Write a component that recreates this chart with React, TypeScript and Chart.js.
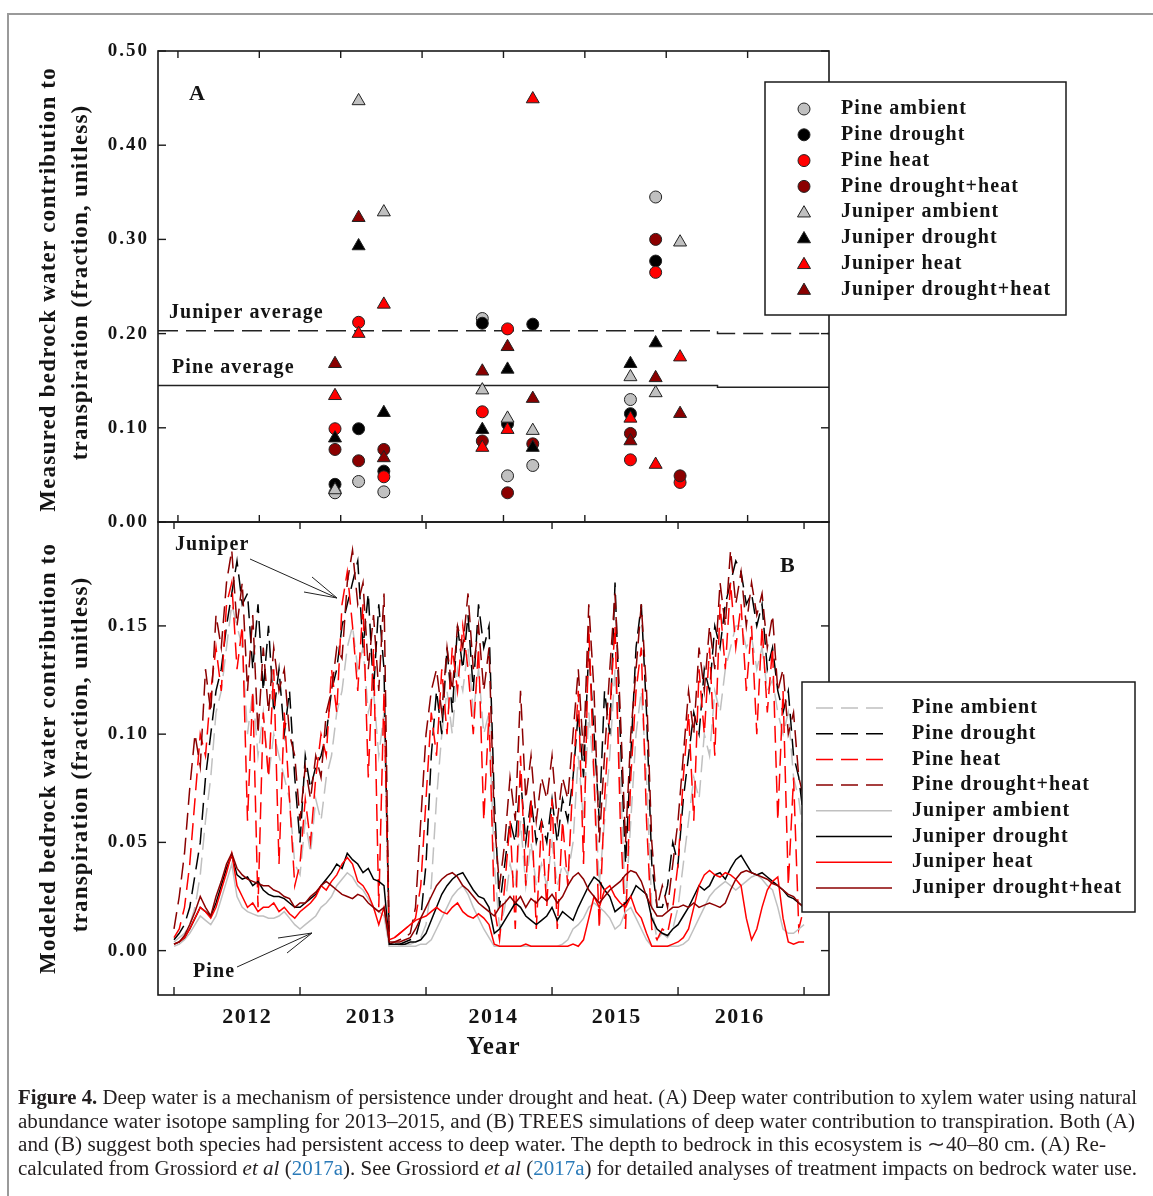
import React, { useEffect, useRef } from 'react';
import { Chart, registerables } from 'chart.js';
Chart.register(...registerables);

const SERIF = '"Liberation Serif", "Times New Roman", Times, serif';
const AXIS = '#1a1a1a';

// ---------------- Panel A: measured values ----------------
const sampleX = [1.93, 2.22, 2.53, 3.74, 4.05, 4.36, 5.56, 5.87, 6.17];
const pineAmbientA = [0.031, 0.043, 0.032, 0.216, 0.049, 0.060, 0.130, 0.345, null];
const pineDroughtA = [0.040, 0.099, 0.054, 0.211, 0.104, 0.210, 0.115, 0.277, null];
const pineHeatA = [0.099, 0.212, 0.048, 0.117, 0.205, null, 0.066, 0.265, 0.042];
const pineDroughtHeatA = [0.077, 0.065, 0.077, 0.086, 0.031, 0.083, 0.094, 0.300, 0.049];
const juniperAmbientA = [0.034, 0.447, 0.329, 0.140, 0.110, 0.097, 0.154, 0.137, 0.297];
const juniperDroughtA = [0.089, 0.293, 0.116, 0.098, 0.162, 0.079, 0.168, 0.190, null];
const juniperHeatA = [0.134, 0.200, 0.231, 0.079, 0.098, 0.449, 0.110, 0.061, 0.175];
const juniperDroughtHeatA = [0.168, 0.323, 0.068, 0.160, 0.186, 0.131, 0.086, 0.153, 0.115];

const avgX = [-0.245, 6.63, 6.63, 8.0];
const juniperAverage = [0.203, 0.203, 0.200, 0.200];
const pineAverage = [0.145, 0.145, 0.143, 0.143];

const yTicksA = [0, 0.1, 0.2, 0.3, 0.4, 0.5];
const xTicksA = [0, 1, 2, 3, 4, 5, 6, 7];

// ---------------- Panel B: modeled (semi-monthly, 2012.0 - 2017.0) ----------------
const simStart = 2012;
const stepsPerYear = 24;

const pineAmbientB = [
  0.004, 0.006, 0.008, 0.012, 0.020, 0.035, 0.060, 0.080, 0.110, 0.120, 0.140, 0.160,
  0.150, 0.140, 0.100, 0.120, 0.090, 0.110, 0.080, 0.100, 0.090, 0.080, 0.070, 0.040,
  0.035, 0.060, 0.045, 0.070, 0.060, 0.080, 0.090, 0.110, 0.120, 0.140, 0.150, 0.130,
  0.140, 0.110, 0.120, 0.090, 0.110, 0.002, 0.002, 0.002, 0.003, 0.003, 0.004, 0.006,
  0.012, 0.030, 0.070, 0.100, 0.120, 0.100, 0.130, 0.120, 0.140, 0.110, 0.130, 0.100,
  0.110, 0.040, 0.010, 0.020, 0.040, 0.030, 0.060, 0.030, 0.050, 0.030, 0.040, 0.030,
  0.050, 0.030, 0.040, 0.035, 0.050, 0.090, 0.060, 0.110, 0.080, 0.030, 0.060, 0.090,
  0.130, 0.080, 0.020, 0.060, 0.100, 0.120, 0.080, 0.020, 0.005, 0.008, 0.006, 0.010,
  0.020, 0.040, 0.060, 0.080, 0.070, 0.100, 0.090, 0.120, 0.110, 0.130, 0.140, 0.150,
  0.150, 0.140, 0.145, 0.130, 0.140, 0.120, 0.125, 0.110, 0.100, 0.110, 0.080, 0.070, 0.050,
];
const pineDroughtB = [
  0.005, 0.008, 0.012, 0.020, 0.035, 0.050, 0.080, 0.100, 0.120, 0.130, 0.150, 0.165,
  0.180, 0.160, 0.165, 0.130, 0.160, 0.120, 0.150, 0.110, 0.130, 0.100, 0.120, 0.080,
  0.050, 0.090, 0.075, 0.085, 0.090, 0.100, 0.120, 0.130, 0.150, 0.160, 0.170, 0.180,
  0.140, 0.165, 0.120, 0.160, 0.130, 0.003, 0.003, 0.003, 0.004, 0.005, 0.006, 0.015,
  0.040, 0.090, 0.120, 0.100, 0.140, 0.110, 0.150, 0.130, 0.155, 0.120, 0.160, 0.140,
  0.150, 0.070, 0.020, 0.040, 0.060, 0.050, 0.080, 0.050, 0.070, 0.050, 0.060, 0.050,
  0.070, 0.050, 0.070, 0.060, 0.080, 0.110, 0.080, 0.140, 0.100, 0.060, 0.120, 0.100,
  0.170, 0.100, 0.040, 0.090, 0.140, 0.160, 0.110, 0.040, 0.020, 0.020, 0.030, 0.050,
  0.040, 0.070, 0.090, 0.110, 0.100, 0.130, 0.120, 0.150, 0.140, 0.160, 0.170, 0.180,
  0.175, 0.160, 0.165, 0.150, 0.160, 0.130, 0.140, 0.120, 0.110, 0.120, 0.090, 0.080, 0.060,
];
const pineHeatB = [
  0.006, 0.010, 0.020, 0.040, 0.070, 0.100, 0.090, 0.120, 0.140, 0.120, 0.160, 0.170,
  0.130, 0.150, 0.060, 0.120, 0.020, 0.110, 0.080, 0.130, 0.040, 0.110, 0.070, 0.030,
  0.040, 0.070, 0.050, 0.080, 0.100, 0.090, 0.130, 0.110, 0.160, 0.175, 0.150, 0.120,
  0.160, 0.080, 0.140, 0.020, 0.120, 0.005, 0.006, 0.008, 0.010, 0.012, 0.015, 0.030,
  0.070, 0.110, 0.090, 0.130, 0.100, 0.140, 0.120, 0.150, 0.130, 0.100, 0.140, 0.060,
  0.110, 0.020, 0.005, 0.030, 0.060, 0.010, 0.090, 0.030, 0.070, 0.010, 0.060, 0.020,
  0.070, 0.010, 0.060, 0.030, 0.080, 0.120, 0.040, 0.150, 0.080, 0.010, 0.070, 0.110,
  0.150, 0.060, 0.010, 0.080, 0.120, 0.140, 0.060, 0.010, 0.005, 0.010, 0.008, 0.020,
  0.040, 0.080, 0.110, 0.060, 0.130, 0.100, 0.140, 0.090, 0.160, 0.130, 0.170, 0.140,
  0.160, 0.120, 0.150, 0.100, 0.150, 0.110, 0.140, 0.060, 0.120, 0.030, 0.080, 0.010, 0.020,
];
const pineDroughtHeatB = [
  0.010, 0.025, 0.045, 0.075, 0.100, 0.085, 0.130, 0.110, 0.155, 0.140, 0.170, 0.185,
  0.150, 0.170, 0.120, 0.155, 0.100, 0.140, 0.110, 0.140, 0.120, 0.130, 0.100, 0.090,
  0.060, 0.085, 0.070, 0.090, 0.080, 0.110, 0.120, 0.140, 0.135, 0.170, 0.185, 0.160,
  0.170, 0.130, 0.155, 0.120, 0.165, 0.003, 0.004, 0.005, 0.006, 0.008, 0.020, 0.060,
  0.100, 0.120, 0.130, 0.110, 0.140, 0.120, 0.150, 0.140, 0.165, 0.130, 0.150, 0.120,
  0.140, 0.060, 0.030, 0.050, 0.080, 0.060, 0.120, 0.070, 0.090, 0.060, 0.080, 0.070,
  0.090, 0.060, 0.080, 0.070, 0.100, 0.130, 0.090, 0.160, 0.120, 0.050, 0.090, 0.130,
  0.165, 0.110, 0.050, 0.100, 0.130, 0.160, 0.120, 0.050, 0.020, 0.030, 0.020, 0.040,
  0.060, 0.090, 0.120, 0.100, 0.140, 0.120, 0.150, 0.130, 0.170, 0.150, 0.185, 0.160,
  0.175, 0.150, 0.170, 0.155, 0.165, 0.140, 0.155, 0.120, 0.130, 0.100, 0.110, 0.080, 0.070,
];
const juniperAmbientB = [
  0.002, 0.003, 0.005, 0.008, 0.012, 0.016, 0.014, 0.012, 0.016, 0.024, 0.032, 0.040,
  0.025, 0.020, 0.018, 0.017, 0.016, 0.016, 0.015, 0.015, 0.016, 0.018, 0.015, 0.012,
  0.010, 0.012, 0.014, 0.016, 0.020, 0.022, 0.025, 0.030, 0.033, 0.036, 0.034, 0.030,
  0.028, 0.024, 0.020, 0.018, 0.016, 0.002, 0.002, 0.002, 0.002, 0.002, 0.002, 0.003,
  0.003, 0.005, 0.010, 0.015, 0.020, 0.025, 0.028, 0.030, 0.026, 0.020, 0.015, 0.010,
  0.006, 0.002, 0.002, 0.002, 0.002, 0.002, 0.002, 0.002, 0.002, 0.002, 0.002, 0.002,
  0.002, 0.002, 0.003, 0.005, 0.010, 0.012, 0.015, 0.020, 0.022, 0.020, 0.018, 0.015,
  0.010, 0.012, 0.018, 0.020, 0.015, 0.010, 0.005, 0.002, 0.002, 0.002, 0.002, 0.002,
  0.002, 0.003, 0.005, 0.010, 0.015, 0.020, 0.025, 0.028, 0.030, 0.032, 0.030, 0.028,
  0.030, 0.032, 0.034, 0.035, 0.033, 0.030, 0.028, 0.020, 0.010, 0.008, 0.008, 0.010, 0.012,
];
const juniperDroughtB = [
  0.003, 0.004, 0.006, 0.010, 0.015, 0.020, 0.018, 0.016, 0.022, 0.030, 0.038, 0.044,
  0.035, 0.033, 0.034, 0.030, 0.032, 0.028, 0.026, 0.025, 0.025, 0.024, 0.022, 0.020,
  0.020, 0.022, 0.024, 0.026, 0.030, 0.033, 0.036, 0.040, 0.038, 0.045, 0.042, 0.040,
  0.036, 0.038, 0.033, 0.032, 0.030, 0.003, 0.003, 0.003, 0.003, 0.004, 0.004, 0.005,
  0.008, 0.014, 0.020, 0.026, 0.030, 0.033, 0.035, 0.036, 0.032, 0.028, 0.025, 0.024,
  0.020, 0.008, 0.010, 0.014, 0.018, 0.022, 0.020, 0.016, 0.014, 0.012, 0.014, 0.016,
  0.020, 0.014, 0.018, 0.016, 0.014, 0.020, 0.025, 0.030, 0.034, 0.032, 0.028, 0.025,
  0.018, 0.020, 0.022, 0.025, 0.030, 0.028, 0.026, 0.015, 0.010, 0.008, 0.007, 0.010,
  0.012, 0.016, 0.020, 0.025, 0.030, 0.028, 0.030, 0.035, 0.036, 0.033, 0.038, 0.042,
  0.044, 0.040, 0.036, 0.035, 0.036, 0.034, 0.032, 0.030, 0.028, 0.025, 0.024, 0.022, 0.020,
];
const juniperHeatB = [
  0.003, 0.004, 0.006, 0.010, 0.015, 0.020, 0.018, 0.015, 0.020, 0.028, 0.036, 0.045,
  0.030, 0.025, 0.020, 0.022, 0.018, 0.020, 0.020, 0.022, 0.018, 0.020, 0.017, 0.015,
  0.018, 0.020, 0.022, 0.025, 0.030, 0.028, 0.032, 0.035, 0.040, 0.043, 0.040, 0.032,
  0.030, 0.026, 0.020, 0.012, 0.020, 0.005, 0.006, 0.008, 0.010, 0.012, 0.014, 0.015,
  0.016, 0.018, 0.020, 0.018, 0.017, 0.020, 0.022, 0.018, 0.016, 0.015, 0.017, 0.015,
  0.012, 0.003, 0.002, 0.002, 0.002, 0.002, 0.002, 0.003, 0.002, 0.002, 0.002, 0.002,
  0.002, 0.002, 0.002, 0.002, 0.003, 0.002, 0.005, 0.015, 0.025, 0.020, 0.028, 0.030,
  0.025, 0.022, 0.020, 0.025, 0.018, 0.015, 0.008, 0.002, 0.002, 0.002, 0.002, 0.003,
  0.004, 0.006, 0.010, 0.020, 0.030, 0.035, 0.037, 0.035, 0.034, 0.036, 0.035, 0.033,
  0.030, 0.015, 0.005, 0.010, 0.020, 0.028, 0.032, 0.034, 0.015, 0.004, 0.003, 0.004, 0.004,
];
const juniperDroughtHeatB = [
  0.003, 0.004, 0.007, 0.012, 0.018, 0.025, 0.020, 0.016, 0.025, 0.032, 0.040, 0.045,
  0.038, 0.035, 0.033, 0.032, 0.031, 0.030, 0.030, 0.028, 0.027, 0.025, 0.024, 0.020,
  0.022, 0.022, 0.025, 0.027, 0.030, 0.032, 0.030, 0.028, 0.026, 0.025, 0.024, 0.026,
  0.025, 0.022, 0.020, 0.018, 0.020, 0.004, 0.004, 0.004, 0.005, 0.006, 0.010, 0.015,
  0.020, 0.025, 0.030, 0.033, 0.035, 0.036, 0.034, 0.030, 0.028, 0.025, 0.022, 0.020,
  0.018, 0.016, 0.020, 0.022, 0.025, 0.022, 0.025, 0.020, 0.024, 0.022, 0.025, 0.023,
  0.026, 0.022, 0.025, 0.030, 0.034, 0.036, 0.033, 0.028, 0.025, 0.022, 0.025, 0.028,
  0.030, 0.032, 0.035, 0.037, 0.036, 0.032, 0.025, 0.020, 0.016, 0.016, 0.018, 0.020,
  0.020, 0.021, 0.020, 0.022, 0.020, 0.021, 0.022, 0.021, 0.020, 0.022, 0.028, 0.033,
  0.036, 0.037, 0.036, 0.035, 0.034, 0.033, 0.031, 0.030, 0.028, 0.026, 0.025, 0.022, 0.020,
];

const yTicksB = [0, 0.05, 0.1, 0.15];
const yearTicks = [2012, 2013, 2014, 2015, 2016, 2017];
const yearLabels = ['2012', '2013', '2014', '2015', '2016'];
const yearLabelPos = [2012.575, 2013.556, 2014.53, 2015.508, 2016.484];

const seriesNames = [
  'Pine ambient', 'Pine drought', 'Pine heat', 'Pine drought+heat',
  'Juniper ambient', 'Juniper drought', 'Juniper heat', 'Juniper drought+heat',
];
const treatmentColors = ['#c0c0c0', '#000000', '#ff0000', '#8b0000'];

// ---------------- drawing helpers ----------------
function drawText(ctx: any, s: string, x: number, y: number, o: any = {}) {
  const { size = 20, weight = 'bold', align = 'left', baseline = 'alphabetic', ls = 0, color = '#141414', style = 'normal' } = o;
  ctx.save();
  ctx.font = `${style} ${weight} ${size}px ${SERIF}`;
  try { ctx.letterSpacing = `${ls}px`; } catch (e) { /* ignore */ }
  ctx.fillStyle = color;
  ctx.textAlign = 'left';
  ctx.textBaseline = baseline;
  let w = ctx.measureText(s).width;
  if (ls) w -= ls;
  let x0 = x;
  if (align === 'center') x0 = x - w / 2;
  else if (align === 'right') x0 = x - w;
  ctx.fillText(s, x0, y);
  ctx.restore();
}

function drawRotated(ctx: any, s: string, x: number, y: number, o: any = {}) {
  ctx.save();
  ctx.translate(x, y);
  ctx.rotate(-Math.PI / 2);
  drawText(ctx, s, 0, 0, { ...o, align: 'center', baseline: 'middle' });
  ctx.restore();
}

function seg(ctx: any, x1: number, y1: number, x2: number, y2: number) {
  ctx.beginPath();
  ctx.moveTo(x1, y1);
  ctx.lineTo(x2, y2);
  ctx.stroke();
}

function marker(ctx: any, kind: string, x: number, y: number, r: number, fill: string) {
  ctx.save();
  ctx.beginPath();
  if (kind === 'circle') {
    ctx.arc(x, y, r, 0, Math.PI * 2);
  } else {
    ctx.moveTo(x, y - r);
    ctx.lineTo(x + r * 0.866, y + r * 0.5);
    ctx.lineTo(x - r * 0.866, y + r * 0.5);
    ctx.closePath();
  }
  ctx.fillStyle = fill;
  ctx.fill();
  ctx.setLineDash([]);
  ctx.lineWidth = 1;
  ctx.strokeStyle = '#222';
  ctx.stroke();
  ctx.restore();
}

const panelAPlugin = {
  id: 'panelA',
  afterDraw(chart: any) {
    const ctx = chart.ctx;
    const { left, right, top, bottom } = chart.chartArea;
    const xs = chart.scales.x;
    const ys = chart.scales.y;
    ctx.save();
    ctx.setLineDash([]);
    ctx.strokeStyle = AXIS;
    ctx.lineWidth = 1.6;
    ctx.strokeRect(left, top, right - left, bottom - top);
    ctx.lineWidth = 1.4;
    for (const v of yTicksA) {
      const y = ys.getPixelForValue(v);
      seg(ctx, left, y, left + 8, y);
      seg(ctx, right - 8, y, right, y);
      drawText(ctx, v.toFixed(2), left - 11, y, { size: 19, align: 'right', baseline: 'middle', ls: 2 });
    }
    for (const k of xTicksA) {
      const x = xs.getPixelForValue(k);
      seg(ctx, x, top, x, top + 7);
      seg(ctx, x, bottom - 7, x, bottom);
    }
    drawText(ctx, 'A', 189, 100, { size: 22 });
    drawText(ctx, 'Juniper average', 169, 318, { size: 20, ls: 1.1 });
    drawText(ctx, 'Pine average', 172, 373, { size: 20, ls: 1.1 });

    // legend
    ctx.fillStyle = '#fff';
    ctx.fillRect(765, 82, 301, 233);
    ctx.strokeStyle = AXIS;
    ctx.lineWidth = 1.5;
    ctx.strokeRect(765, 82, 301, 233);
    seriesNames.forEach((n, i) => {
      const y = 109 + i * 25.8;
      marker(ctx, i < 4 ? 'circle' : 'triangle', 804, i < 4 ? y : y + 1, i < 4 ? 6 : 7.5, treatmentColors[i % 4]);
      drawText(ctx, n, 841, y, { size: 20, baseline: 'middle', ls: 1.1 });
    });

    drawRotated(ctx, 'Measured bedrock water contribution to', 49, 290, { size: 23, ls: 1.2 });
    drawRotated(ctx, 'transpiration (fraction, unitless)', 81, 283, { size: 23, ls: 1.2 });
    ctx.restore();
  },
};

const panelBPlugin = {
  id: 'panelB',
  afterDraw(chart: any) {
    const ctx = chart.ctx;
    const { left, right, top, bottom } = chart.chartArea;
    const xs = chart.scales.x;
    const ys = chart.scales.y;
    ctx.save();
    ctx.setLineDash([]);
    ctx.strokeStyle = AXIS;
    ctx.lineWidth = 1.6;
    ctx.strokeRect(left, top, right - left, bottom - top);
    ctx.lineWidth = 1.4;
    for (const v of yTicksB) {
      const y = ys.getPixelForValue(v);
      seg(ctx, left, y, left + 8, y);
      seg(ctx, right - 8, y, right, y);
      drawText(ctx, v.toFixed(2), left - 11, y, { size: 19, align: 'right', baseline: 'middle', ls: 2 });
    }
    for (const yr of yearTicks) {
      const x = xs.getPixelForValue(yr);
      seg(ctx, x, top, x, top + 7);
      seg(ctx, x, bottom - 8, x, bottom);
    }
    yearLabels.forEach((lab, i) => {
      drawText(ctx, lab, xs.getPixelForValue(yearLabelPos[i]), 1023, { size: 22, align: 'center', ls: 1.5 });
    });
    drawText(ctx, 'Year', 493, 1054, { size: 25, align: 'center', ls: 1 });
    drawText(ctx, 'B', 780, 572, { size: 22 });

    // annotations
    drawText(ctx, 'Juniper', 175, 550, { size: 20, ls: 1.1 });
    drawText(ctx, 'Pine', 193, 977, { size: 20, ls: 1.1 });
    ctx.strokeStyle = '#222';
    ctx.lineWidth = 1;
    seg(ctx, 250, 559, 337, 598);
    seg(ctx, 312, 577, 337, 598);
    seg(ctx, 304, 592, 337, 598);
    seg(ctx, 237, 967, 312, 933);
    seg(ctx, 278, 938, 312, 933);
    seg(ctx, 287, 953, 312, 933);

    // legend
    ctx.fillStyle = '#fff';
    ctx.fillRect(802, 682, 333, 230);
    ctx.strokeStyle = AXIS;
    ctx.lineWidth = 1.5;
    ctx.strokeRect(802, 682, 333, 230);
    seriesNames.forEach((n, i) => {
      const y = 708 + i * 25.7;
      ctx.strokeStyle = treatmentColors[i % 4];
      ctx.lineWidth = 1.5;
      ctx.setLineDash(i < 4 ? [17, 8] : []);
      seg(ctx, 816, y, i < 4 ? 886 : 892, y);
      ctx.setLineDash([]);
      drawText(ctx, n, 912, y, { size: 20, baseline: 'middle', ls: 1.1 });
    });

    drawRotated(ctx, 'Modeled bedrock water contribution to', 49, 759, { size: 23, ls: 1.2 });
    drawRotated(ctx, 'transpiration (fraction, unitless)', 81, 755, { size: 23, ls: 1.2 });
    ctx.restore();
  },
};

const W = 1153;
const H = 1196;

function hiddenAxis(extra: any) {
  return {
    ticks: { display: false },
    grid: { display: false, drawTicks: false },
    border: { display: false },
    title: { display: false },
    ...extra,
  };
}

function buildA(canvas: HTMLCanvasElement) {
  const seriesA = [pineAmbientA, pineDroughtA, pineHeatA, pineDroughtHeatA, juniperAmbientA, juniperDroughtA, juniperHeatA, juniperDroughtHeatA];
  const pointSets = seriesA.map((vals, i) => ({
    label: seriesNames[i],
    data: sampleX.map((x, j) => ({ x, y: vals[j] })).filter((p) => p.y !== null),
    showLine: false,
    pointStyle: i < 4 ? 'circle' : 'triangle',
    pointRadius: i < 4 ? 6 : 7.5,
    pointHoverRadius: i < 4 ? 6 : 7.5,
    pointBackgroundColor: treatmentColors[i % 4],
    pointBorderColor: '#222',
    pointBorderWidth: 1,
    order: 8 - i,
  }));
  const avgSets = [
    {
      label: 'Juniper average',
      data: avgX.map((x, j) => ({ x, y: juniperAverage[j] })),
      showLine: true, borderColor: '#222', borderWidth: 1.5, borderDash: [20, 8], pointRadius: 0, order: 20,
    },
    {
      label: 'Pine average',
      data: avgX.map((x, j) => ({ x, y: pineAverage[j] })),
      showLine: true, borderColor: '#222', borderWidth: 1.5, pointRadius: 0, order: 21,
    },
  ];
  return new Chart(canvas, {
    type: 'scatter',
    data: { datasets: [...pointSets, ...avgSets] as any },
    plugins: [panelAPlugin],
    options: {
      responsive: false,
      animation: false,
      events: [],
      layout: { padding: { left: 0, right: W - 829, top: 51, bottom: H - 522 } },
      plugins: { legend: { display: false }, tooltip: { enabled: false } },
      scales: {
        x: hiddenAxis({ type: 'linear', min: -0.245, max: 8.0, afterFit: (s: any) => { s.height = 0; } }),
        y: hiddenAxis({
          type: 'linear', min: 0, max: 0.5,
          afterFit: (s: any) => { s.width = 158; },
          afterBuildTicks: (s: any) => { s.ticks = yTicksA.map((v) => ({ value: v })); },
        }),
      },
    } as any,
  });
}

function buildB(canvas: HTMLCanvasElement) {
  const toPts = (vals: number[]) => vals.map((v, i) => ({ x: simStart + i / stepsPerYear, y: v }));
  const dashed = [pineAmbientB, pineDroughtB, pineHeatB, pineDroughtHeatB];
  const solid = [juniperAmbientB, juniperDroughtB, juniperHeatB, juniperDroughtHeatB];
  const datasets: any[] = [];
  dashed.forEach((vals, i) => {
    datasets.push({
      label: seriesNames[i], data: toPts(vals), borderColor: treatmentColors[i], borderWidth: 1.5,
      borderDash: [17, 8], pointRadius: 0, tension: 0, fill: false, order: 20 - i,
    });
  });
  solid.forEach((vals, i) => {
    datasets.push({
      label: seriesNames[i + 4], data: toPts(vals), borderColor: treatmentColors[i], borderWidth: 1.5,
      pointRadius: 0, tension: 0, fill: false, order: 10 - i,
    });
  });
  return new Chart(canvas, {
    type: 'line',
    data: { datasets },
    plugins: [panelBPlugin],
    options: {
      responsive: false,
      animation: false,
      events: [],
      layout: { padding: { left: 0, right: W - 829, top: 522, bottom: H - 995 } },
      plugins: { legend: { display: false }, tooltip: { enabled: false } },
      scales: {
        x: hiddenAxis({ type: 'linear', min: 2011.873, max: 2017.198, afterFit: (s: any) => { s.height = 0; } }),
        y: hiddenAxis({
          type: 'linear', min: -0.0205, max: 0.198,
          afterFit: (s: any) => { s.width = 158; },
          afterBuildTicks: (s: any) => { s.ticks = yTicksB.map((v) => ({ value: v })); },
        }),
      },
    } as any,
  });
}

// ---------------- caption ----------------
const captionLines = [
  '^Figure^ ^4.^ Deep water is a mechanism of persistence under drought and heat. (A) Deep water contribution to xylem water using natural',
  'abundance water isotope sampling for 2013–2015, and (B) TREES simulations of deep water contribution to transpiration. Both (A)',
  'and (B) suggest both species had persistent access to deep water. The depth to bedrock in this ecosystem is ∼40–80 cm. (A) Re-',
  'calculated from Grossiord _et_ _al_ ({2017a}). See Grossiord _et_ _al_ ({2017a}) for detailed analyses of treatment impacts on bedrock water use.',
];
const captionTops = [1086, 1109.5, 1133, 1156.5];
const captionWidths = [1119, 1117, 1088, 1119];

function renderLine(line: string) {
  const parts = line.split(/(\^[^^]*\^|_[^_]*_|\{[^}]*\})/g).filter((p) => p !== '');
  return parts.map((p, k) => {
    if (p.startsWith('^')) return <b key={k}>{p.slice(1, -1)}</b>;
    if (p.startsWith('_')) return <i key={k}>{p.slice(1, -1)}</i>;
    if (p.startsWith('{')) return <span key={k} style={{ color: '#2a7ab8' }}>{p.slice(1, -1)}</span>;
    return <span key={k}>{p}</span>;
  });
}

export default function App() {
  const refA = useRef<HTMLCanvasElement>(null);
  const refB = useRef<HTMLCanvasElement>(null);
  const capRefs = useRef<(HTMLDivElement | null)[]>([]);
  useEffect(() => {
    const a = buildA(refA.current as HTMLCanvasElement);
    const b = buildB(refB.current as HTMLCanvasElement);
    capRefs.current.forEach((el, i) => {
      if (!el) return;
      el.style.transform = 'none';
      const w = el.getBoundingClientRect().width;
      if (w > 0) el.style.transform = `scaleX(${captionWidths[i] / w})`;
    });
    return () => { a.destroy(); b.destroy(); };
  }, []);
  const cs: any = { position: 'absolute', left: 0, top: 0, width: W, height: H };
  return (
    <div style={{ position: 'absolute', left: 0, top: 0, width: W, height: H, background: '#fff', overflow: 'hidden' }}>
      <div style={{ position: 'absolute', left: 7, top: 13, width: W + 20, height: H + 20, borderTop: '2px solid #9a9a9a', borderLeft: '2px solid #9a9a9a' }} />
      <canvas ref={refA} width={W} height={H} style={cs} />
      <canvas ref={refB} width={W} height={H} style={cs} />
      {captionLines.map((line, li) => (
        <div key={li} ref={(el) => { capRefs.current[li] = el; }} style={{
          position: 'absolute', left: 18, top: captionTops[li],
          whiteSpace: 'pre', transformOrigin: '0 0',
          fontFamily: SERIF, fontSize: 20.5, lineHeight: '23px', color: '#231f20',
        }}>
          {renderLine(line)}
        </div>
      ))}
    </div>
  );
}
